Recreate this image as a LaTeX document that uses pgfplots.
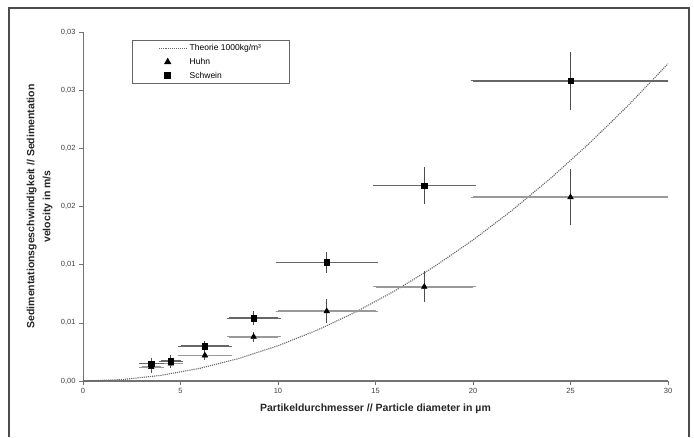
\documentclass[border=0pt]{standalone}
\usepackage{fontspec}
\setmainfont{Liberation Sans}
\usepackage{pgfplots}
\pgfplotsset{compat=1.18}
\pgfplotsset{lineleg/.style={legend image code/.code={\draw[##1] (0pt,0pt) -- (28pt,0pt);}}}

% Theory curve (Stokes, 1000 kg/m3)
\pgfplotstableread{
d v
0 0
2 0.000121
4 0.000485
6 0.001091
8 0.001939
10 0.003030
12 0.004363
14 0.005939
16 0.007757
18 0.009817
20 0.012120
22 0.014665
24 0.017453
26 0.020483
28 0.023755
30 0.027270
}\theorie

\begin{document}
\begin{tikzpicture}
\useasboundingbox (0,0) rectangle (694pt,437pt);
\draw[black!70, line width=1.5pt] (9pt,0pt) -- (9pt,429pt) -- (689pt,429pt) -- (689pt,0pt);
\begin{axis}[
    at={(83pt,56pt)}, anchor=south west,
    scale only axis,
    width=585pt, height=349pt,
    xmin=0, xmax=30, ymin=0, ymax=0.03,
    axis x line*=bottom, axis y line*=left,
    x axis line style={-, black!55, line width=1.6pt},
    y axis line style={-, black!55, line width=0.8pt},
    tick align=outside, major tick length=4pt,
    tick style={black!55, line width=0.6pt},
    xtick={0,5,10,15,20,25,30},
    xticklabels={0,5,10,15,20,25,30},
    ytick={0,0.005,0.01,0.015,0.02,0.025,0.03},
    yticklabels={{0,00},{0,01},{0,01},{0,02},{0,02},{0,03},{0,03}},
    scaled y ticks=false,
    tick label style={font=\fontsize{7.5}{8}\selectfont, text=black!75},
    xlabel={Partikeldurchmesser // Particle diameter in µm},
    ylabel={Sedimentationsgeschwindigkeit // Sedimentation\\velocity in m/s},
    xlabel style={font=\fontsize{10.5}{12}\selectfont\bfseries, text=black!85,
        at={(axis description cs:0.5,-0.08)}, anchor=center},
    ylabel style={font=\fontsize{10.5}{16}\selectfont\bfseries, text=black!85, align=center,
        at={(axis description cs:-0.074,0.5)}, anchor=center},
    legend style={at={(0.084,0.977)}, anchor=north west,
        draw=black!60, line width=1pt, font=\fontsize{8.5}{10}\selectfont,
        inner xsep=26pt, inner ysep=2pt, row sep=2pt},
    legend cell align=left,
]
\addplot[black!60, densely dotted, line width=1.1pt, lineleg]
    table[x=d, y=v] {\theorie};
\addlegendentry{Theorie 1000kg/m³}

% Huhn: horizontal bars
\addplot[forget plot, only marks, mark=none, color=black!40,
    error bars/.cd, x dir=both, x explicit,
    error bar style={color=black!40, line width=1.5pt},
    error mark options={color=black!40, mark size=2.5pt, line width=0.8pt}]
coordinates {
    (3.5,0.0012) +- (0.5,0)
    (4.5,0.0015) +- (0.5,0)
    (6.25,0.0022) +- (1.25,0)
    (8.75,0.0038) +- (1.25,0)
    (12.5,0.0060) +- (2.5,0)
    (17.5,0.0081) +- (2.5,0)
    (25,0.0158) +- (5,0)
};
% Schwein: horizontal bars
\addplot[forget plot, only marks, mark=none, color=black!60,
    error bars/.cd, x dir=both, x explicit,
    error bar style={color=black!60, line width=1.5pt},
    error mark options={color=black!60, mark size=2.5pt, line width=0.8pt}]
coordinates {
    (3.5,0.0015) +- (0.5,0)
    (4.5,0.0017) +- (0.5,0)
    (6.25,0.0030) +- (1.25,0)
    (8.75,0.0054) +- (1.25,0)
    (12.5,0.0102) +- (2.5,0)
    (17.5,0.0168) +- (2.5,0)
    (25,0.0258) +- (5,0)
};

\addplot[only marks, mark=triangle*, mark size=3.3pt, black,
    error bars/.cd, y dir=both, y explicit,
    error bar style={color=black!70, line width=0.9pt},
    error mark options={color=black!70, mark size=2.5pt, line width=0.8pt}]
coordinates {
    (3.5,0.0012) +- (0,0.0003)
    (4.5,0.0015) +- (0,0.0002)
    (6.25,0.0022) +- (0,0.0002)
    (8.75,0.0038) +- (0,0.0002)
    (12.5,0.0060) +- (0,0.0008)
    (17.5,0.0081) +- (0,0.0011)
    (25,0.0158) +- (0,0.0022)
};
\addlegendentry{Huhn}

\addplot[only marks, mark=square*, mark size=2.8pt, black,
    error bars/.cd, y dir=both, y explicit,
    error bar style={color=black!70, line width=0.9pt},
    error mark options={color=black!70, mark size=2.5pt, line width=0.8pt}]
coordinates {
    (3.5,0.0015) +- (0,0.0003)
    (4.5,0.0017) +- (0,0.0003)
    (6.25,0.0030) +- (0,0.0002)
    (8.75,0.0054) +- (0,0.0004)
    (12.5,0.0102) +- (0,0.0007)
    (17.5,0.0168) +- (0,0.0014)
    (25,0.0258) +- (0,0.0023)
};
\addlegendentry{Schwein}
\end{axis}
\end{tikzpicture}
\end{document}
